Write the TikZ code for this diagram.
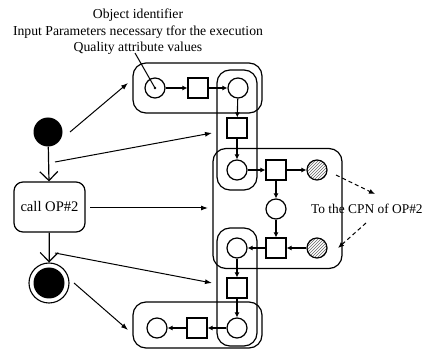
\documentclass[tikz,border=0pt]{standalone}
\usepackage{fontspec}
\setmainfont{Liberation Serif}
\usetikzlibrary{arrows.meta,patterns}
\begin{document}
\begin{tikzpicture}[x=1pt,y=-1pt,
  every node/.style={font=\fontsize{13.7}{16.5}\selectfont},
  place/.style={circle,draw,line width=1.2pt,minimum size=20pt,inner sep=0pt},
  trans/.style={rectangle,draw,line width=1.2pt,minimum size=20pt,inner sep=0pt},
  hplace/.style={place,pattern=north east lines,pattern color=black!60},
  arc/.style={line width=1.1pt,-{Latex[length=5pt,width=5pt]}},
  group/.style={draw,line width=1.2pt,rounded corners=13pt,inner sep=0pt},
  flow/.style={line width=1pt,-{Latex[length=7pt,width=5pt]}},
  ctrl/.style={line width=1.2pt,-{Straight Barb[length=9pt,width=18pt,line width=1.2pt]}},
  ext/.style={line width=1pt,dash pattern=on 4pt off 3pt,-{Latex[length=6pt,width=5pt]}},
]
\useasboundingbox (0,0) rectangle (424,350);

% activity part
\node[circle,fill=black,minimum size=29pt,inner sep=0pt] (start) at (48,132) {};
\node[draw,line width=1.2pt,rounded corners=9pt,minimum width=71pt,minimum height=50pt,inner sep=0pt,
      font=\fontsize{14.6}{17}\selectfont] (call) at (49.5,207) {call OP\#2};
\node[circle,draw,line width=1.1pt,minimum size=40pt,inner sep=0pt] (stop) at (49,283) {};
\node[circle,fill=black,minimum size=31pt,inner sep=0pt] (stopin) at (49,283) {};
\draw[ctrl] (start) -- (call);
\draw[ctrl] (call) -- (stop);

% groups of the net
\node[group,minimum width=129pt,minimum height=50pt] (gtop) at (197.5,88) {};
\node[group,minimum width=40pt,minimum height=120pt] (gcolA) at (237,130) {};
\node[group,minimum width=129pt,minimum height=120pt] (gmid) at (277.5,208.5) {};
\node[group,minimum width=40pt,minimum height=118pt] (gcolB) at (237,287) {};
\node[group,minimum width=129pt,minimum height=46pt] (gbot) at (197.5,325) {};

% places and transitions
\node[place] (p1) at (155,88) {};
\node[trans] (t1) at (198,88) {};
\node[place] (p2) at (238,88) {};
\node[trans] (t2) at (237,128) {};
\node[place] (p3) at (237,170) {};
\node[trans] (t3) at (276,170) {};
\node[hplace] (h1) at (317,170) {};
\node[place] (p4) at (276,209) {};
\node[trans] (t4) at (276,248) {};
\node[hplace] (h2) at (317,248) {};
\node[place] (p5) at (237,248) {};
\node[trans] (t5) at (237,288) {};
\node[place] (p6) at (237,328) {};
\node[trans] (t6) at (197,328) {};
\node[place] (p7) at (157,328) {};

\draw[arc] (p1) -- (t1);
\draw[arc] (t1) -- (p2);
\draw[arc] (p2) -- (t2);
\draw[arc] (t2) -- (p3);
\draw[arc] (p3) -- (t3);
\draw[arc] (t3) -- (h1);
\draw[arc] (t3) -- (p4);
\draw[arc] (p4) -- (t4);
\draw[arc] (h2) -- (t4);
\draw[arc] (t4) -- (p5);
\draw[arc] (p5) -- (t5);
\draw[arc] (t5) -- (p6);
\draw[arc] (p6) -- (t6);
\draw[arc] (t6) -- (p7);

% mapping arrows from the activity to the net
\coordinate (s1) at (70,132);
\coordinate (e1) at (128,83);
\coordinate (s2) at (55,162);
\coordinate (e2) at (212,133);
\coordinate (s3) at (90,208);
\coordinate (e3) at (208,208);
\coordinate (s4) at (55,253);
\coordinate (e4) at (212,283);
\coordinate (s5) at (74,283);
\coordinate (e5) at (128,330);
\draw[flow] (s1) -- (e1);
\draw[flow] (s2) -- (e2);
\draw[flow] (s3) -- (e3);
\draw[flow] (s4) -- (e4);
\draw[flow] (s5) -- (e5);

% annotation of the token
\node[align=center,inner sep=0pt] (note) at (138,32) {Object identifier\\Input Parameters necessary tfor the execution\\Quality attribute values};
\coordinate (ptr) at (135,53);
\draw[line width=1pt] (ptr) -- (p1.center);
\fill (p1.center) circle (1.3pt);

% link to the called net
\node[anchor=west,inner sep=0pt,font=\fontsize{13.4}{16}\selectfont] (cpn) at (311,209) {To the CPN of OP\#2};
\coordinate (d1s) at (336,175);
\coordinate (d1e) at (375,194);
\coordinate (d2s) at (366,223);
\coordinate (d2e) at (338,248);
\draw[ext] (d1s) -- (d1e);
\draw[ext] (d2s) -- (d2e);
\end{tikzpicture}
\end{document}
